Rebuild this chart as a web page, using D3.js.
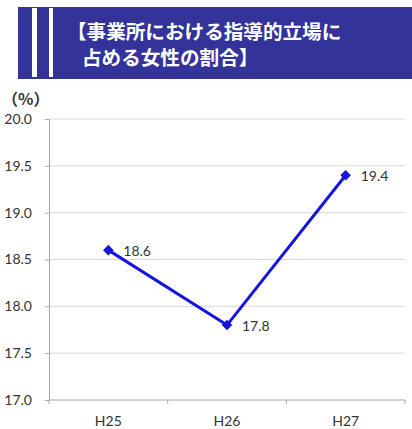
<!DOCTYPE html>
<html>
<head>
<meta charset="utf-8">
<script src="https://cdn.jsdelivr.net/npm/d3@7"></script>
<style>
  html, body { margin: 0; padding: 0; background: #fff; }
  #chart { position: relative; width: 412px; height: 429px; }
  svg { display: block; }
  .title-line {
    position: absolute; height: 26px; line-height: 26px; white-space: nowrap;
    font-family: 'Noto Sans CJK JP', 'Noto Sans CJK SC', sans-serif;
    font-weight: bold; font-size: 19.6px; color: #fff;
  }
</style>
</head>
<body>
<div id="chart"></div>
<script>
// Share of women in leadership positions at workplaces (%)
const categories = ["H25", "H26", "H27"];
const values = [18.6, 17.8, 19.4];
const yTicks = [17.0, 17.5, 18.0, 18.5, 19.0, 19.5, 20.0];
const titleLines = ["【事業所における指導的立場に", "占める女性の割合】"];
const unitLabel = "（%）";

const W = 412, H = 429;
const chart = d3.select("#chart");
const svg = chart.append("svg").attr("width", W).attr("height", H);

// Title banner
svg.append("rect").attr("x", 18).attr("y", 7).attr("width", W - 18).attr("height", 72).attr("fill", "#333399");
[[32, 5], [49, 4]].forEach(([bx, bw]) => {
  svg.append("rect").attr("x", bx).attr("y", 8).attr("width", bw).attr("height", 69).attr("fill", "#fff");
});
const titleFont = "'Noto Sans CJK JP', 'Noto Sans CJK SC', sans-serif";
// Title lines as stacked 26px rows over the banner
chart.selectAll("div.title-line").data(titleLines).join("div")
  .attr("class", "title-line")
  .style("left", (d, i) => (i === 0 ? 67 : 82) + "px")
  .style("top", (d, i) => (18 + i * 26) + "px")
  .text(d => d);

// Plot area
const plotLeft = 49, plotRight = 405, plotTop = 119, plotBottom = 400;
const x = d3.scaleBand().domain(categories).range([plotLeft, plotRight]);
const y = d3.scaleLinear().domain([17, 20]).range([plotBottom, plotTop]);
const labelFont = "Lato, 'Liberation Sans', sans-serif";

// Horizontal gridlines
svg.append("g").selectAll("line").data(yTicks.filter(t => t > 17)).join("line")
  .attr("x1", plotLeft).attr("x2", plotRight)
  .attr("y1", d => y(d)).attr("y2", d => y(d))
  .attr("stroke", "#d9d9d9").attr("stroke-width", 1);

// Y axis
const yAxis = svg.append("g").attr("transform", `translate(${plotLeft},0)`)
  .call(d3.axisLeft(y).tickValues(yTicks).tickFormat(d3.format(".1f")).tickSize(4).tickPadding(13));
yAxis.select(".domain").attr("stroke", "#a6a6a6");
yAxis.selectAll(".tick line").attr("stroke", "#a6a6a6");
yAxis.selectAll("text").attr("font-family", labelFont).attr("font-size", 14).attr("fill", "#333");

// X axis with tick marks on category boundaries
const xAxis = svg.append("g").attr("transform", `translate(0,${plotBottom})`);
xAxis.append("line").attr("x1", plotLeft).attr("x2", plotRight).attr("stroke", "#a6a6a6");
const bounds = categories.map(c => x(c)).concat([x(categories[categories.length - 1]) + x.bandwidth()]);
xAxis.selectAll("line.tk").data(bounds).join("line").attr("class", "tk")
  .attr("x1", d => d).attr("x2", d => d).attr("y1", 0).attr("y2", 4).attr("stroke", "#a6a6a6");
xAxis.selectAll("text").data(categories).join("text")
  .attr("x", d => x(d) + x.bandwidth() / 2).attr("y", 26)
  .attr("text-anchor", "middle").attr("font-family", labelFont).attr("font-size", 14).attr("fill", "#333")
  .text(d => d);

// Unit label
svg.append("text").attr("x", 2).attr("y", 98).attr("dominant-baseline", "central")
  .attr("font-family", titleFont).attr("font-weight", "bold").attr("font-size", 16)
  .attr("fill", "#333").text(unitLabel);

// Line series
const cx = d => x(d.c) + x.bandwidth() / 2;
const pts = categories.map((c, i) => ({ c, v: values[i] }));
svg.append("path").datum(pts)
  .attr("d", d3.line().x(cx).y(d => y(d.v)))
  .attr("fill", "none").attr("stroke", "#1515e0").attr("stroke-width", 3);

// Diamond markers (rotated squares)
svg.append("g").selectAll("path").data(pts).join("path")
  .attr("d", d3.symbol(d3.symbolSquare, 56)())
  .attr("transform", d => `translate(${cx(d)},${y(d.v)}) rotate(45)`)
  .attr("fill", "#1515e0");

svg.append("g").selectAll("text").data(pts).join("text")
  .attr("x", d => cx(d) + 15).attr("y", d => y(d.v))
  .attr("dominant-baseline", "central")
  .attr("font-family", labelFont).attr("font-size", 14).attr("fill", "#333")
  .text(d => d3.format(".1f")(d.v));
</script>
</body>
</html>
